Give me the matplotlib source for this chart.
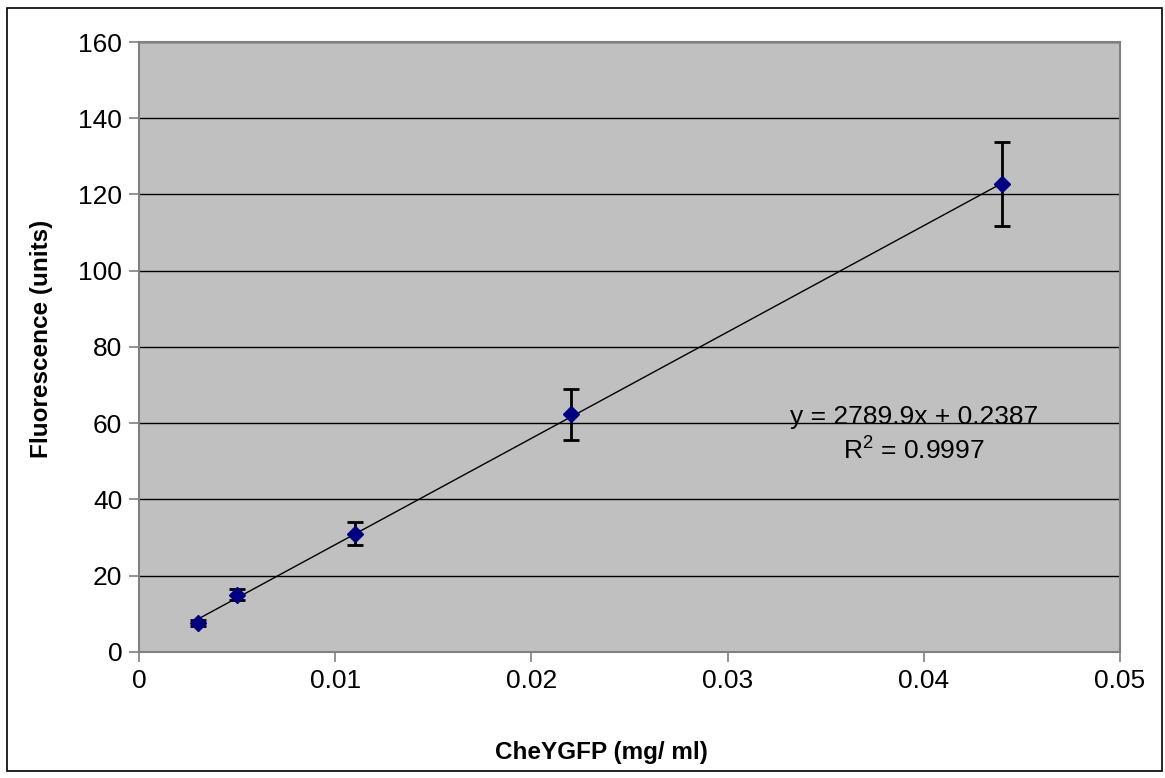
import matplotlib.pyplot as plt
from matplotlib.patches import Rectangle

plt.rcParams['font.family'] = ['Liberation Sans', 'DejaVu Sans']

# CheYGFP concentration vs fluorescence
conc = [0.003, 0.005, 0.011, 0.022, 0.044]
fluor = [7.6, 15.0, 31.0, 62.3, 122.7]
fluor_err = [0.8, 1.5, 3.0, 6.8, 11.0]

slope = 2789.9
intercept = 0.2387
r2 = 0.9997

fig = plt.figure(figsize=(11.65, 7.78), dpi=100)
fig.patches.append(Rectangle((0.006, 0.009), 0.9915, 0.981, transform=fig.transFigure,
                             fill=False, edgecolor='black', linewidth=1.2))

ax = fig.add_axes([0.1193, 0.162, 0.8421, 0.784])
ax.set_facecolor('#c0c0c0')
ax.set_xlim(0, 0.05)
ax.set_ylim(0, 160)
ax.set_xticks([0, 0.01, 0.02, 0.03, 0.04, 0.05])
ax.set_xticklabels(['0', '0.01', '0.02', '0.03', '0.04', '0.05'])
ax.set_yticks(range(0, 161, 20))
ax.yaxis.grid(True, color='black', linewidth=1.0)
ax.set_axisbelow(True)
for s in ax.spines.values():
    s.set_color('#808080')
    s.set_linewidth(1.5)
ax.tick_params(direction='out', length=7, width=1.2, color='#808080',
               labelsize=19, pad=5)

# trendline over the data range
xs = [min(conc), max(conc)]
ax.plot(xs, [slope * x + intercept for x in xs], color='black', linewidth=1.0, zorder=3)

ax.errorbar(conc, fluor, yerr=fluor_err, fmt='none', ecolor='black',
            elinewidth=2, capsize=6, capthick=2, zorder=4)
ax.plot(conc, fluor, linestyle='none', marker='D', markersize=8,
        color='#000080', zorder=5)

ax.text(0.0395, 61.6, 'y = 2789.9x + 0.2387', fontsize=19, ha='center', va='center')
ax.text(0.0395, 52.6, '$\\mathregular{R^2}$ = %.4f' % r2, fontsize=19,
        ha='center', va='center')

fig.text(0.516, 0.033, 'CheYGFP (mg/ ml)', fontsize=17.5, fontweight='bold',
         ha='center', va='center')
fig.text(0.036, 0.565, 'Fluorescence (units)', fontsize=17.5, fontweight='bold',
         ha='center', va='center', rotation=90)

fig.savefig('out.png', dpi=100)
